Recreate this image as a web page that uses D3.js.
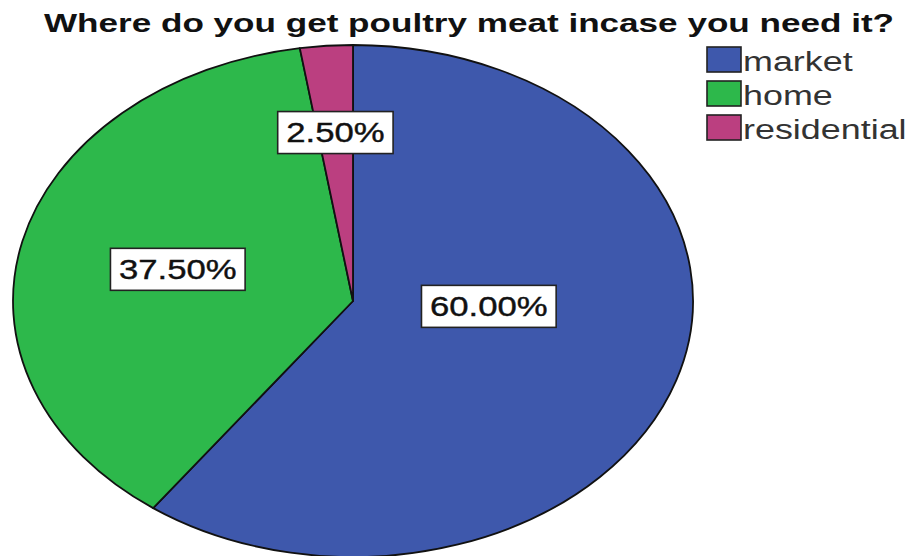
<!DOCTYPE html>
<html>
<head>
<meta charset="utf-8">
<script src="https://cdn.jsdelivr.net/npm/d3@7/dist/d3.min.js"></script>
<style>
  html, body { margin: 0; padding: 0; background: #fff; }
  svg { display: block; }
  text { font-family: "Liberation Sans", Arial, sans-serif; }
</style>
</head>
<body>
<svg id="chart" width="912" height="556"></svg>
<script>
// Survey answers and their shares (percent)
const categories = ["market", "home", "residential"];
const shares = [60.0, 37.5, 2.5];
const sliceColors = ["#3E58AC", "#2DB84B", "#BB3F80"];
const titleText = "Where do you get poultry meat incase you need it?";

const W = 912, H = 556;
const cx = 353, cy = 301;     // pie centre
const ry = 256;               // vertical radius
const rx = 340;               // horizontal radius (pie is drawn as an ellipse)
const labelStretch = 1.24;    // horizontal stretch of slice labels
const titleStretch = 1.35;    // horizontal stretch of the title
const legendStretch = 1.33;   // horizontal stretch of legend text

// label placement inside each slice: angle shift (deg) from slice middle, radius fraction
const labelPlacement = [
  { shift: -15, k: 0.40 },
  { shift: 0, k: 0.53 },
  { shift: 0, k: 0.66 }
];

const svg = d3.select("#chart");

const data = categories.map((c, i) => ({ name: c, value: shares[i], color: sliceColors[i] }));

const pie = d3.pie().sort(null).value(d => d.value);
const arcs = pie(data);
const arc = d3.arc().innerRadius(0).outerRadius(ry);

// Pie slices, scaled horizontally into an ellipse
const pieG = svg.append("g")
  .attr("transform", `translate(${cx},${cy}) scale(${rx / ry},1)`);

pieG.selectAll("path.slice")
  .data(arcs)
  .enter().append("path")
  .attr("class", "slice")
  .attr("d", arc)
  .attr("fill", d => d.data.color)
  .attr("stroke", "#111")
  .attr("stroke-width", 1.8)
  .attr("stroke-linejoin", "round")
  .attr("vector-effect", "non-scaling-stroke");

// Percentage labels in white boxes
const fmt = d3.format(".2f");
arcs.forEach((a, i) => {
  const p = labelPlacement[i];
  const mid = (a.startAngle + a.endAngle) / 2 + p.shift * Math.PI / 180;
  const x = cx + rx * p.k * Math.sin(mid);
  const y = cy - ry * p.k * Math.cos(mid);
  const g = svg.append("g").attr("transform", `translate(${x},${y})`);
  const rect = g.append("rect");
  const t = g.append("text")
    .attr("text-anchor", "middle")
    .attr("dy", "0.35em")
    .attr("font-size", 28)
    .attr("fill", "#111")
    .attr("stroke", "#111")
    .attr("stroke-width", 0.4)
    .attr("transform", `scale(${labelStretch},1)`)
    .text(fmt(a.data.value) + "%");
  const tw = t.node().getComputedTextLength() * labelStretch;
  const bw = tw + 17, bh = 42;
  rect.attr("x", -bw / 2).attr("y", -bh / 2)
    .attr("width", bw).attr("height", bh)
    .attr("fill", "#fff")
    .attr("stroke", "#222")
    .attr("stroke-width", 1.6);
});

// Title
svg.append("text")
  .attr("text-anchor", "middle")
  .attr("font-size", 26)
  .attr("font-weight", "bold")
  .attr("fill", "#111")
  .attr("transform", `translate(469,32) scale(${titleStretch},1)`)
  .text(titleText);

// Legend
const legend = svg.append("g").attr("transform", "translate(707,47)");
const rowH = 34;
data.forEach((d, i) => {
  const row = legend.append("g").attr("transform", `translate(0,${i * rowH})`);
  row.append("rect")
    .attr("x", 0).attr("y", 0)
    .attr("width", 34).attr("height", 25)
    .attr("fill", d.color)
    .attr("stroke", "#222")
    .attr("stroke-width", 1.6);
  row.append("text")
    .attr("transform", `translate(36,24) scale(${legendStretch},1)`)
    .attr("font-size", 27)
    .attr("fill", "#333")
    .text(d.name);
});
</script>
</body>
</html>
